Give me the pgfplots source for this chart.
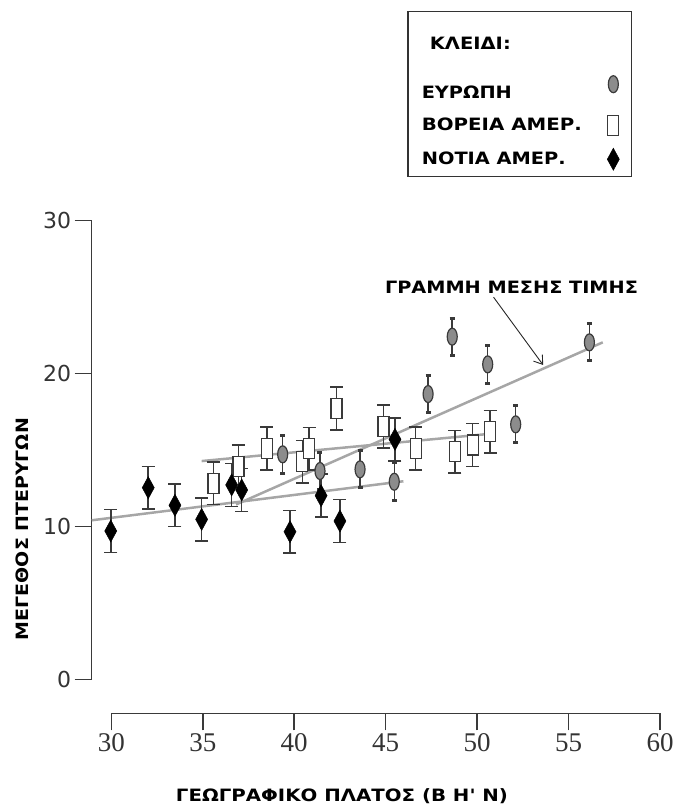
\documentclass[border=0pt]{standalone}
\usepackage{pgfplots}
\pgfplotsset{compat=1.18}
\usetikzlibrary{arrows.meta}
\usepackage{graphicx}
\usepackage{fontspec}
\setmainfont{Liberation Serif}
\newfontfamily\djb{DejaVu Sans}
\newfontfamily\djs{DejaVu Sans}
\newcommand\gtxt[2]{\resizebox{#1}{\height}{\fontsize{17}{20}\selectfont\djb\bfseries #2}}
\definecolor{axisgray}{HTML}{3A3A3A}
\definecolor{regline}{HTML}{A6A6A6}
\definecolor{eufill}{HTML}{8C8C8C}

\pgfplotstableread{
x y e
29.97 9.72 1.4
32.02 12.55 1.4
33.48 11.40 1.4
34.94 10.48 1.4
36.58 12.73 1.4
37.13 12.40 1.4
39.77 9.67 1.4
41.47 12.03 1.4
42.50 10.37 1.4
45.51 15.71 1.4
}\southam

\pgfplotstableread{
x y e
35.58 12.84 1.4
36.95 13.95 1.4
38.51 15.12 1.4
40.44 14.25 1.4
40.81 15.10 1.4
42.32 17.72 1.4
44.89 16.54 1.4
46.64 15.12 1.4
48.79 14.90 1.4
49.76 15.34 1.4
50.71 16.21 1.4
}\northam

\pgfplotstableread{
x y e
39.37 14.73 1.25
41.41 13.64 1.2
43.60 13.75 1.2
45.47 12.94 1.25
47.32 18.67 1.2
48.64 22.42 1.2
50.58 20.61 1.25
52.11 16.69 1.2
56.14 22.05 1.2
}\europe

\begin{document}
\begin{tikzpicture}
\useasboundingbox (0pt,0pt) rectangle (675pt,-805pt);
\coordinate (axSW) at (111.3pt,-679.7pt);
\begin{axis}[
  at={(axSW)}, anchor=south west,
  scale only axis, width=548.7pt, height=459pt,
  xmin=30, xmax=60, ymin=0, ymax=30,
  axis x line*=bottom, axis y line*=left,
  axis x line shift=33.6pt, axis y line shift=19.6pt,
  axis line style={axisgray, line width=1.5pt},
  xtick={30,35,...,60}, ytick={0,10,20,30},
  tick align=outside, major tick length=17pt,
  tick style={axisgray, line width=1.5pt},
  x tick label style={font=\fontsize{27}{27}\selectfont, text=black!80},
  y tick label style={font=\djs\fontsize{22}{22}\selectfont, text=black!80},
  /pgf/number format/assume math mode=true,
  clip=false,
  legend cell align=left, legend plot pos=right,
  legend style={at={(0.539,1.4575)}, anchor=north west, draw=black!80,
    line width=1.5pt, inner xsep=12pt, inner ysep=6pt, row sep=13pt,
    column sep=21pt},
]
% regression lines
\addplot[regline, line width=2.5pt, forget plot] coordinates {(28.93,10.42) (45.97,12.97)};
\addplot[regline, line width=2.5pt, forget plot] coordinates {(34.94,14.29) (50.43,16.04)};
\addplot[regline, line width=2.5pt, forget plot] coordinates {(36.82,11.45) (56.87,22.05)};

\addlegendimage{empty legend}
\addlegendentry{\hspace*{8pt}\gtxt{81pt}{ΚΛΕΙΔΙ:}\rule{0pt}{30pt}}

\addplot[only marks, mark=*, mark size=5pt,
  mark options={yscale=1.7, fill=eufill, draw=axisgray, line width=1.2pt},
  error bars/.cd, y dir=both, y explicit, error mark=|,
  error bar style={axisgray, line width=1.5pt},
  error mark options={axisgray, mark size=2.5pt, line width=3pt}]
  table[x=x, y=y, y error=e] {\europe};
\addlegendentry{\gtxt{90pt}{ΕΥΡΩΠΗ}\rule{0pt}{31pt}}

\addplot[only marks, mark=square*, mark size=5.5pt,
  mark options={yscale=1.8, fill=white, draw=axisgray, line width=1.3pt},
  error bars/.cd, y dir=both, y explicit, error mark=|,
  error bar style={axisgray, line width=1.5pt},
  error mark options={axisgray, mark size=6.5pt, line width=1.5pt}]
  table[x=x, y=y, y error=e] {\northam};
\addlegendentry{\gtxt{160pt}{ΒΟΡΕΙΑ ΑΜΕΡ.}}

\addplot[only marks, mark=diamond*, mark size=8pt,
  mark options={yscale=1.375, fill=black, draw=black, line width=0.5pt},
  error bars/.cd, y dir=both, y explicit, error mark=|,
  error bar style={axisgray, line width=1.5pt},
  error mark options={axisgray, mark size=6.5pt, line width=1.5pt}]
  table[x=x, y=y, y error=e] {\southam};
\addlegendentry{\gtxt{144pt}{ΝΟΤΙΑ ΑΜΕΡ.}}

\draw[black!85, line width=0.9pt, -{Straight Barb[length=8pt, width=11pt]}]
  (axis cs:50.9,25.0) -- (axis cs:53.61,20.57);
\end{axis}
\node at (511.5pt,-287pt) {\gtxt{253pt}{ΓΡΑΜΜΗ ΜΕΣΗΣ ΤΙΜΗΣ}};
\node[rotate=90] at (22.7pt,-529pt) {\gtxt{222pt}{ΜΕΓΕΘΟΣ ΠΤΕΡΥΓΩΝ}};
\node at (342pt,-796pt) {\gtxt{332pt}{ΓΕΩΓΡΑΦΙΚΟ ΠΛΑΤΟΣ (Β Η' Ν)}};
\end{tikzpicture}
\end{document}
